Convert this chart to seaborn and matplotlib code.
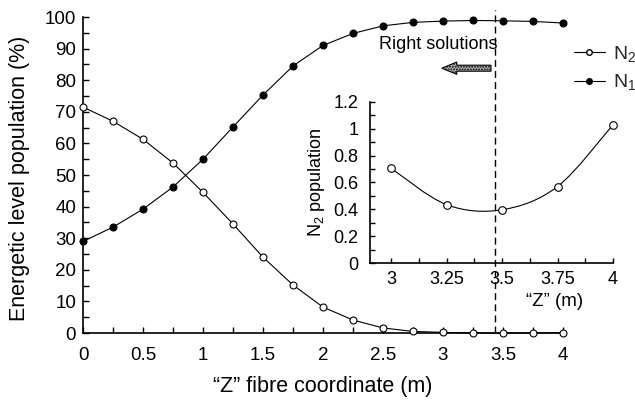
import numpy as np
import pandas as pd
import matplotlib
matplotlib.use("Agg")
import matplotlib.pyplot as plt
from matplotlib.path import Path
from matplotlib.patches import PathPatch, FancyArrow
from matplotlib.lines import Line2D
from matplotlib.ticker import MultipleLocator
import seaborn as sns

# ---- data ----
z_main = [0, 0.25, 0.5, 0.75, 1.0, 1.25, 1.5, 1.75, 2.0, 2.25, 2.5, 2.75, 3.0, 3.25, 3.5, 3.75, 4.0]
n2_main = [71.5, 67.0, 61.3, 53.8, 44.5, 34.5, 24.0, 15.2, 8.2, 4.1, 1.6, 0.5, 0.2, 0.0, 0.0, 0.0, 0.1]
n1_main = [29.0, 33.5, 39.2, 46.2, 55.0, 65.2, 75.3, 84.5, 91.0, 94.8, 97.2, 98.3, 98.7, 98.9, 98.8, 98.6, 98.1]
z_inset = [3.0, 3.25, 3.5, 3.75, 4.0]
n2_inset = [0.706, 0.435, 0.397, 0.57, 1.03]
z_right = 3.43
series_labels = ["N$_2$", "N$_1$"]

sns.set_theme(style="ticks")
plt.rcParams['font.family'] = ['Liberation Sans', 'DejaVu Sans']
plt.rcParams['mathtext.fontset'] = 'custom'
plt.rcParams['mathtext.rm'] = 'Liberation Sans'
plt.rcParams['mathtext.it'] = 'Liberation Sans:italic'

fig = plt.figure(figsize=(6.35, 4.05), dpi=100)
ax = fig.add_axes([83/635, 1 - 333/405, (563 - 83)/635, (333 - 17)/405])

df = pd.DataFrame({"z": z_main, "N2": n2_main, "N1": n1_main})
sns.lineplot(data=df, x="z", y="N2", ax=ax, color="black", lw=0.8, marker="o",
             markersize=5, markerfacecolor="white", markeredgecolor="black",
             markeredgewidth=0.8, clip_on=False, zorder=3)
sns.lineplot(data=df, x="z", y="N1", ax=ax, color="black", lw=0.8, marker="o",
             markersize=5, markerfacecolor="black", markeredgecolor="black",
             markeredgewidth=0.8, clip_on=False, zorder=3)

ax.set_xlim(0, 4)
ax.set_ylim(0, 100)
ax.xaxis.set_minor_locator(MultipleLocator(0.25))
ax.yaxis.set_major_locator(MultipleLocator(10))
ax.yaxis.set_minor_locator(MultipleLocator(5))
ax.set_xticks([0, 0.5, 1, 1.5, 2, 2.5, 3, 3.5, 4])
ax.set_xticklabels(["0", "0.5", "1", "1.5", "2", "2.5", "3", "3.5", "4"])
ax.tick_params(which="both", direction="in", length=4, width=1, color="black",
               labelsize=13.5, labelcolor="black")
ax.tick_params(axis="x", pad=10)
ax.tick_params(axis="y", pad=5)
for s in ["top", "right"]:
    ax.spines[s].set_visible(False)
for s in ["left", "bottom"]:
    ax.spines[s].set_color("black")
    ax.spines[s].set_linewidth(1.2)
ax.set_xlabel("\u201cZ\u201d fibre coordinate (m)", fontsize=15.5, color="black", labelpad=9)
ax.set_ylabel("Energetic level population (%)", fontsize=15.5, color="black")
ax.yaxis.set_label_coords(-0.11, 0.49)

# dashed line
ax.axvline(z_right, ymin=0, ymax=1.022, color="black", lw=1.0, ls=(0, (5, 3)),
           clip_on=False, zorder=5)

# text + arrow
ax.text(2.47, 91.2, "Right solutions", fontsize=13, color="black", va="center", ha="left")
arr = FancyArrow(3.40, 83.8, -0.41, 0, width=1.9, head_width=3.9, head_length=0.125,
                 length_includes_head=True, facecolor="#b5b5b5", edgecolor="black",
                 lw=0.8, hatch="......", zorder=4)
ax.add_patch(arr)

# legend
handles = [Line2D([], [], color="black", lw=0.8, marker="o", markersize=4,
                  markerfacecolor="white", markeredgecolor="black"),
           Line2D([], [], color="black", lw=0.8, marker="o", markersize=4,
                  markerfacecolor="black", markeredgecolor="black")]
fig.legend(handles, series_labels, loc="upper left", bbox_to_anchor=(564/635, 1 - 34/405),
           frameon=False, fontsize=14, handlelength=1.6, handletextpad=0.4,
           labelspacing=0.45, borderpad=0)

# inset
axi = fig.add_axes([370/635, 1 - 263/405, (613 - 370)/635, (263 - 102)/405])
axi.set_facecolor("none")
dfi = pd.DataFrame({"z": z_inset, "N2": n2_inset})
sns.scatterplot(data=dfi, x="z", y="N2", ax=axi, s=30, facecolor="white",
                edgecolor="black", linewidth=0.8, zorder=4, clip_on=False)

# smooth curve through inset points (Catmull-Rom -> cubic Bezier)
P = np.column_stack([z_inset, n2_inset])
verts = [tuple(P[0])]
codes = [Path.MOVETO]
n = len(P)
for i in range(n - 1):
    p0 = P[i - 1] if i > 0 else P[i]
    p1 = P[i]
    p2 = P[i + 1]
    p3 = P[i + 2] if i + 2 < n else P[i + 1]
    c1 = p1 + (p2 - p0) / 6
    c2 = p2 - (p3 - p1) / 6
    verts += [tuple(c1), tuple(c2), tuple(p2)]
    codes += [Path.CURVE4] * 3
axi.add_patch(PathPatch(Path(verts, codes), facecolor="none", edgecolor="black", lw=0.8, zorder=3))

axi.set_xlim(2.905, 4.0)
axi.set_ylim(0, 1.2)
axi.set_xticks([3, 3.25, 3.5, 3.75, 4])
axi.set_xticklabels(["3", "3.25", "3.5", "3.75", "4"])
axi.xaxis.set_minor_locator(MultipleLocator(0.125))
axi.set_yticks([0, 0.2, 0.4, 0.6, 0.8, 1.0, 1.2])
axi.set_yticklabels(["0", "0.2", "0.4", "0.6", "0.8", "1", "1.2"])
axi.yaxis.set_minor_locator(MultipleLocator(0.1))
axi.tick_params(which="both", direction="in", length=3.5, width=1, color="black",
                labelsize=13, labelcolor="black")
axi.tick_params(axis="x", pad=6)
axi.tick_params(axis="y", pad=8.5)
for s in ["top", "right"]:
    axi.spines[s].set_visible(False)
for s in ["left", "bottom"]:
    axi.spines[s].set_color("black")
    axi.spines[s].set_linewidth(1.2)
axi.set_xlabel("\u201cZ\u201d (m)", fontsize=13.5, color="black")
axi.xaxis.set_label_coords(0.76, -0.186)
axi.set_ylabel("N$_2$ population", fontsize=13, color="black")
axi.yaxis.set_label_coords(-0.177, 0.5)

fig.savefig("out.png", dpi=100)
